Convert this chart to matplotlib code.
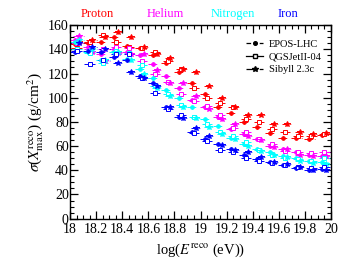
import numpy as np
import matplotlib.pyplot as plt
from matplotlib.lines import Line2D
from matplotlib.ticker import MultipleLocator

plt.rcParams['font.family'] = ['Liberation Serif', 'DejaVu Serif']
plt.rcParams['mathtext.fontset'] = 'stix'

# bin centres in log(E/eV)
log_e = np.arange(18.05, 20.0, 0.1)

# sigma(Xmax^reco) in g/cm^2
proton_epos = [144, 145, 146, 150, 143, 141, 135, 129, 121, 112, 103, 92, 87, 80, 76, 71, 67, 67, 66, 69]
proton_qgs = [141, 146, 152, 146, 142, 141, 138, 130, 124, 108, 100, 96, 92, 82, 80, 74, 72, 68, 68, 70]
proton_sib = [146, 148, 150, 154, 150, 142, 136, 133, 124, 121, 110, 100, 92, 86, 86, 78, 78, 72, 70, 71]

helium_epos = [148, 142, 136, 140, 138, 135, 128, 118, 108, 98, 92, 84, 74, 70, 66, 60, 58, 55, 53, 52]
helium_qgs = [145, 140, 140, 142, 141, 130, 120, 113, 103, 97, 93, 86, 75, 72, 66, 62, 56, 55, 54, 55]
helium_sib = [151, 138, 130, 137, 136, 136, 123, 112, 112, 101, 91, 82, 78, 68, 65, 59, 58, 53, 52, 52]

nitrogen_epos = [146, 138, 131, 138, 132, 124, 116, 106, 100, 92, 82, 77, 67, 62, 58, 55, 52, 50, 48, 47]
nitrogen_qgs = [140, 137, 129, 139, 137, 127, 110, 103, 94, 84, 78, 72, 68, 63, 57, 53, 50, 49, 48, 50]
nitrogen_sib = [148, 140, 131, 138, 131, 120, 108, 101, 92, 83, 76, 70, 66, 60, 56, 53, 51, 48, 46, 45]

iron_epos = [138, 139, 138, 134, 131, 118, 112, 92, 84, 72, 66, 62, 58, 53, 49, 47, 44, 42, 40, 41]
iron_qgs = [139, 128, 131, 136, 136, 116, 104, 91, 86, 71, 64, 57, 55, 50, 48, 46, 44, 43, 42, 43]
iron_sib = [145, 142, 140, 129, 121, 116, 110, 92, 83, 75, 68, 61, 57, 55, 51, 47, 45, 43, 40, 40]

primaries = ['Proton', 'Helium', 'Nitrogen', 'Iron']
colors = ['#ff0000', '#ff00ff', '#00ffff', '#0000ff']
models = ['EPOS-LHC', 'QGSJetII-04', 'Sibyll 2.3c']
data = {
    'Proton': [proton_epos, proton_qgs, proton_sib],
    'Helium': [helium_epos, helium_qgs, helium_sib],
    'Nitrogen': [nitrogen_epos, nitrogen_qgs, nitrogen_sib],
    'Iron': [iron_epos, iron_qgs, iron_sib],
}
styles = [
    dict(marker='o', mfc=None, ls='--', ms=2.6, shift=-0.015),
    dict(marker='s', mfc='white', ls='-', ms=3.2, shift=0.0),
    dict(marker='*', mfc=None, ls='-.', ms=3.8, shift=0.015),
]

fig = plt.figure(figsize=(3.49, 2.73), dpi=100)
ax = fig.add_axes([0.201, 0.199, 0.747, 0.709])

for prim, col in zip(primaries, colors):
    for vals, st in zip(data[prim], styles):
        mfc = col if st['mfc'] is None else st['mfc']
        eb = ax.errorbar(log_e + st['shift'], vals, xerr=0.04, yerr=1.5,
                         fmt=st['marker'], color=col, mfc=mfc, mec=col,
                         ms=st['ms'], mew=0.7, elinewidth=0.7, capsize=0)
        for lc in eb[2]:
            lc.set_linestyle(st['ls'])

ax.set_xlim(18, 20)
ax.set_ylim(0, 160)
ax.xaxis.set_minor_locator(MultipleLocator(0.05))
ax.yaxis.set_major_locator(MultipleLocator(20))
ax.yaxis.set_minor_locator(MultipleLocator(5))
ax.set_xticks(np.arange(18, 20.01, 0.2))
ax.set_xticklabels(['18', '18.2', '18.4', '18.6', '18.8', '19', '19.2', '19.4', '19.6', '19.8', '20'])
ax.tick_params(which='both', direction='in', top=True, right=True, labelsize=10)
ax.tick_params(axis='x', pad=3)
ax.tick_params(axis='y', pad=1)
ax.tick_params(which='major', length=6, width=0.9)
ax.tick_params(which='minor', length=3, width=0.8)
for sp in ax.spines.values():
    sp.set_linewidth(1.0)

ax.set_xlabel(r'log($E^{\mathrm{reco}}$ (eV))', fontsize=10.5, labelpad=4)
ax.set_ylabel(r'$\sigma$($X^{\mathrm{reco}}_{\mathrm{max}}$) (g/cm$^2$)', fontsize=11, labelpad=1)

for prim, col, xp in zip(primaries, colors, [0.279, 0.474, 0.668, 0.826]):
    fig.text(xp, 0.948, prim, color=col, fontsize=9, ha='center', va='center')

handles = [
    Line2D([], [], color='black', ls='--', marker='o', ms=2.6, lw=0.9),
    Line2D([], [], color='black', ls='-', marker='s', mfc='white', ms=3.2, lw=0.9),
    Line2D([], [], color='black', ls='-.', marker='*', ms=3.8, lw=0.9),
]
ax.legend(handles, models, loc='upper right', frameon=False, fontsize=7.5,
          handlelength=1.7, handletextpad=0.5, labelspacing=0.35,
          bbox_to_anchor=(1.0, 0.975))

fig.savefig('out.png', dpi=100)
